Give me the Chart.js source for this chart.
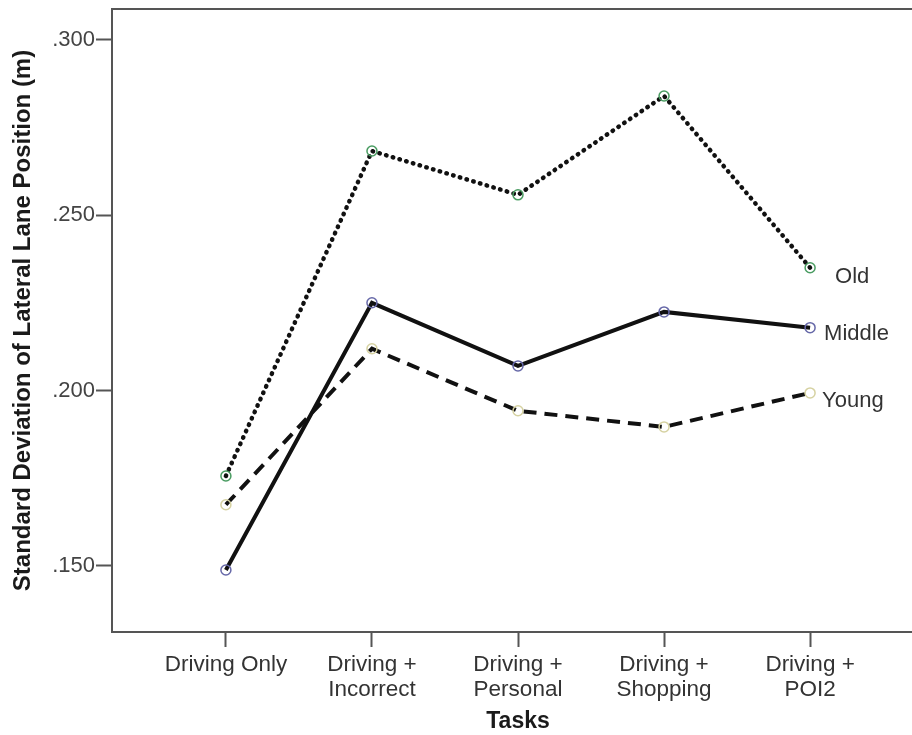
<!DOCTYPE html>
<html lang="en">
<head>
    <meta charset="UTF-8">
    <title>Lateral Lane Position by Task</title>
    <script src="https://cdn.jsdelivr.net/npm/chart.js"></script>
    <style>
        html, body {
            margin: 0;
            padding: 0;
            background: #fff;
            overflow: hidden;
        }
        #wrap {
            width: 912px;
            height: 735px;
            overflow: hidden;
        }
    </style>
</head>
<body>
    <div id="wrap">
        <canvas id="sdlpChart" width="940" height="735"></canvas>
    </div>

    <script>
        // tasks along the x axis
        const tasks = ['Driving Only', 'Driving + Incorrect', 'Driving + Personal', 'Driving + Shopping', 'Driving + POI2'];
        const taskLabels = [
            ['Driving Only'],
            ['Driving +', 'Incorrect'],
            ['Driving +', 'Personal'],
            ['Driving +', 'Shopping'],
            ['Driving +', 'POI2']
        ];

        // mean SDLP (m) per age group
        const oldValues = [0.1756, 0.2683, 0.2558, 0.2840, 0.2350];
        const middleValues = [0.1488, 0.2250, 0.2070, 0.2224, 0.2179];
        const youngValues = [0.1674, 0.2119, 0.1942, 0.1896, 0.1993];

        const yTicks = [0.150, 0.200, 0.250, 0.300];

        const toPoints = (vals) => vals.map((v, i) => ({ x: i, y: v }));

        // group name written next to the last point of each line
        const endLabels = {
            id: 'endLabels',
            afterDatasetsDraw(chart) {
                const ctx = chart.ctx;
                const offsets = [[25, 9], [14, 6], [12, 8]];
                ctx.save();
                ctx.font = '22px "Liberation Sans", Arial, sans-serif';
                ctx.fillStyle = '#333';
                ctx.textBaseline = 'middle';
                chart.data.datasets.forEach((ds, i) => {
                    const meta = chart.getDatasetMeta(i);
                    const pt = meta.data[meta.data.length - 1];
                    ctx.fillText(ds.label, pt.x + offsets[i][0], pt.y + offsets[i][1]);
                });
                ctx.restore();
            }
        };

        // top edge of the frame
        const frameTop = {
            id: 'frameTop',
            beforeDatasetsDraw(chart) {
                const a = chart.chartArea;
                const ctx = chart.ctx;
                ctx.save();
                ctx.strokeStyle = '#555';
                ctx.lineWidth = 2;
                ctx.beginPath();
                ctx.moveTo(a.left - 1, a.top);
                ctx.lineTo(a.right, a.top);
                ctx.stroke();
                ctx.restore();
            }
        };

        const ctx = document.getElementById('sdlpChart').getContext('2d');

        const sdlpChart = new Chart(ctx, {
            type: 'line',
            data: {
                datasets: [
                    {
                        label: 'Old',
                        data: toPoints(oldValues),
                        borderColor: '#111',
                        borderWidth: 4.5,
                        borderDash: [0.5, 6.5],
                        borderCapStyle: 'round',
                        pointRadius: 5,
                        pointBorderWidth: 1.5,
                        pointBorderColor: '#4a9c62',
                        pointBackgroundColor: 'rgba(255,255,255,0)'
                    },
                    {
                        label: 'Middle',
                        data: toPoints(middleValues),
                        borderColor: '#111',
                        borderWidth: 4,
                        pointRadius: 5,
                        pointBorderWidth: 1.5,
                        pointBorderColor: '#6668a8',
                        pointBackgroundColor: 'rgba(255,255,255,0)'
                    },
                    {
                        label: 'Young',
                        data: toPoints(youngValues),
                        borderColor: '#111',
                        borderWidth: 4,
                        borderDash: [13, 8],
                        pointRadius: 5,
                        pointBorderWidth: 1.5,
                        pointBorderColor: '#d6d2a2',
                        pointBackgroundColor: 'rgba(255,255,255,0)'
                    }
                ]
            },
            options: {
                responsive: false,
                animation: false,
                tension: 0,
                layout: {
                    padding: { top: 9, right: 16, bottom: 0, left: 0 }
                },
                plugins: {
                    legend: { display: false },
                    tooltip: { enabled: false }
                },
                scales: {
                    x: {
                        type: 'linear',
                        min: -0.78,
                        max: 4.78,
                        afterBuildTicks: (scale) => {
                            scale.ticks = tasks.map((t, i) => ({ value: i }));
                        },
                        afterFit: (scale) => {
                            scale.height = 103;
                        },
                        ticks: {
                            autoSkip: false,
                            maxRotation: 0,
                            padding: 5,
                            color: '#333',
                            font: { family: '"Liberation Sans", Arial, sans-serif', size: 22.5, lineHeight: 1.12 },
                            callback: (value) => taskLabels[value]
                        },
                        grid: {
                            drawOnChartArea: false,
                            tickLength: 15,
                            tickWidth: 2,
                            tickColor: '#555'
                        },
                        border: { color: '#555', width: 2 },
                        title: {
                            display: true,
                            text: 'Tasks',
                            color: '#1a1a1a',
                            font: { family: '"Liberation Sans", Arial, sans-serif', size: 23, weight: 'bold' },
                            padding: { top: 2, bottom: 0 }
                        }
                    },
                    y: {
                        min: 0.1311,
                        max: 0.3088,
                        afterBuildTicks: (scale) => {
                            scale.ticks = yTicks.map(v => ({ value: v }));
                        },
                        afterFit: (scale) => {
                            scale.width = 112;
                            scale.paddingTop = 0;
                            scale.paddingBottom = 0;
                        },
                        ticks: {
                            padding: 1,
                            color: '#444',
                            font: { family: '"Liberation Sans", Arial, sans-serif', size: 22 },
                            callback: (value) => value.toFixed(3).replace(/^0/, '')
                        },
                        grid: {
                            drawOnChartArea: false,
                            tickLength: 16,
                            tickWidth: 2,
                            tickColor: '#555'
                        },
                        border: { color: '#555', width: 2 },
                        title: {
                            display: true,
                            text: 'Standard Deviation of Lateral Lane Position (m)',
                            color: '#1a1a1a',
                            font: { family: '"Liberation Sans", Arial, sans-serif', size: 24, weight: 'bold' },
                            padding: { top: 9, bottom: 0 }
                        }
                    }
                }
            },
            plugins: [frameTop, endLabels]
        });
    </script>
</body>
</html>
